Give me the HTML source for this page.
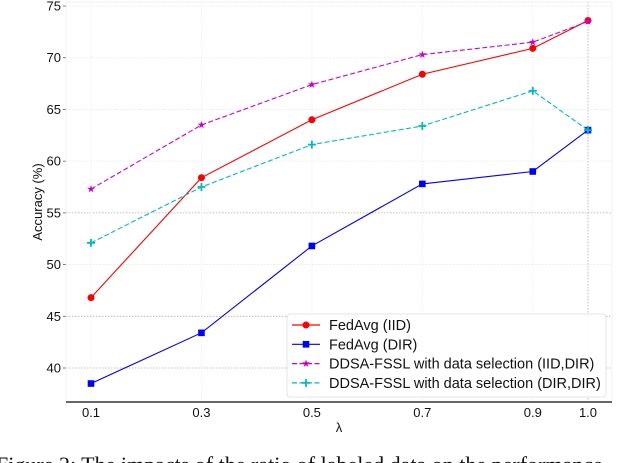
<!DOCTYPE html>
<html><head><meta charset="utf-8"><style>
html,body{margin:0;padding:0;background:#fff;width:640px;height:463px;overflow:hidden}
svg{display:block}
</style></head><body>
<svg id="c" width="640" height="463" xmlns="http://www.w3.org/2000/svg"></svg>
<script>
const categories=[0.1,0.3,0.5,0.7,0.9,1.0];
const catLabels=["0.1","0.3","0.5","0.7","0.9","1.0"];
const fedIID=[46.8,58.4,64.0,68.4,70.9,73.6];
const fedDIR=[38.5,43.4,51.8,57.8,59.0,63.0];
const ddsaIIDDIR=[57.3,63.5,67.4,70.3,71.5,73.5];
const ddsaDIRDIR=[52.1,57.5,61.6,63.4,66.8,63.0];
const yTicks=[40,45,50,55,60,65,70,75];
const seriesNames=["FedAvg (IID)","FedAvg (DIR)","DDSA-FSSL with data selection (IID,DIR)","DDSA-FSSL with data selection (DIR,DIR)"];

const NS="http://www.w3.org/2000/svg";
const svg=document.getElementById('c');
function X(v){return 91+(v-0.1)/0.9*497;}
function Y(v){return 6+(75-v)*10.343;}
function el(t,a,p){const e=document.createElementNS(NS,t);for(const k in a)e.setAttribute(k,a[k]);(p||svg).appendChild(e);return e;}

yTicks.forEach(t=>{
  const g=el('line',{x1:66,x2:612,y1:Y(t),y2:Y(t),stroke:(t==55||t==45||t==40)?'#b0b0b0':'#e8e8e8','stroke-width':0.8,'stroke-dasharray':'1.5,1.5'});
  
  
  const tk=el('line',{x1:63,x2:66,y1:Y(t),y2:Y(t),stroke:'#555','stroke-width':0.8});
  
  
  const tx=el('text',{x:61,y:Y(t)+4.5,'text-anchor':'end','font-family':'Liberation Sans, sans-serif','font-size':13,fill:'#111'});
  tx.textContent=t;
  
  
});
categories.forEach((c,i)=>{
  const g=el('line',{x1:X(c),x2:X(c),y1:2,y2:402,stroke:i==5?'#b0b0b0':'#eeeeee','stroke-width':0.8,'stroke-dasharray':'1.5,1.5'});
  
  
  const tx=el('text',{x:X(c),y:417,'text-anchor':'middle','font-family':'Liberation Sans, sans-serif','font-size':13,fill:'#111'});
  tx.textContent=catLabels[i];
  
  
});
const fr=el('rect',{x:66,y:2,width:546,height:400,fill:'none',stroke:'#eeeeee','stroke-width':0.8});


const ax=el('line',{x1:66,x2:612,y1:402,y2:402,stroke:'#666','stroke-width':2});



function marker(type,x,y,col,parent){
  let m;
  if(type=='o')m=el('circle',{cx:x,cy:y,r:3.5,fill:col},parent);
  else if(type=='s')m=el('rect',{x:x-3.3,y:y-3.3,width:6.6,height:6.6,fill:col},parent);
  else if(type=='*'){let p='';for(let k=0;k<10;k++){const r=k%2?1.6:4,a=-Math.PI/2+k*Math.PI/5;p+=(x+r*Math.cos(a)).toFixed(2)+','+(y+r*Math.sin(a)).toFixed(2)+' ';}m=el('polygon',{points:p,fill:col},parent);}
  else m=el('path',{d:`M${x-4},${y}H${x+4}M${x},${y-4}V${y+4}`,stroke:col,'stroke-width':1.8},parent);
  return m;
}
const series=[[fedIID,'#ff0000','o',''],[fedDIR,'#0000ff','s',''],[ddsaIIDDIR,'#cc00cc','*','5,2.5'],[ddsaDIRDIR,'#00bbbb','+','5,2.5']];
const snames=['fedavg-iid','fedavg-dir','ddsa-iid-dir','ddsa-dir-dir'];
series.forEach((s,si)=>{
  const g=el('g',{});
  
  
  const pl=el('polyline',{points:s[0].map((v,i)=>X(categories[i])+','+Y(v)).join(' '),fill:'none',stroke:s[1],'stroke-width':1.1,'stroke-dasharray':s[3]},g);
  
  
  s[0].forEach((v,i)=>{const m=marker(s[2],X(categories[i]),Y(v),s[1],g);
    
    });
});
const lg=el('g',{});


el('rect',{x:287,y:314,width:319,height:83,rx:3,fill:'rgba(255,255,255,0.9)',stroke:'#ddd','stroke-width':0.8},lg);
series.forEach((s,si)=>{
  const y=325+si*19.3;
  const e=el('g',{},lg);
  
  
  el('line',{x1:292,x2:320,y1:y,y2:y,stroke:s[1],'stroke-width':1.2,'stroke-dasharray':s[3]},e);
  marker(s[2],306,y,s[1],e);
  const t=el('text',{x:329,y:y+5,'font-family':'Liberation Sans, sans-serif','font-size':14.5,fill:'#111'},e);
  t.textContent=seriesNames[si];
});
const yl=el('text',{x:0,y:0,transform:'translate(42,202) rotate(-90)','text-anchor':'middle','font-family':'Liberation Sans, sans-serif','font-size':13,fill:'#111'});
yl.textContent='Accuracy (%)';


const xl=el('text',{x:339,y:432,'text-anchor':'middle','font-family':'Liberation Sans, sans-serif','font-size':13,fill:'#111'});
xl.textContent='λ';


const cap=el('text',{x:-4,y:472,'font-family':'Liberation Serif, serif','font-size':22,fill:'#111'});
cap.textContent='Figure 2: The impacts of the ratio of labeled data on the performance';


</script>
</body></html>
